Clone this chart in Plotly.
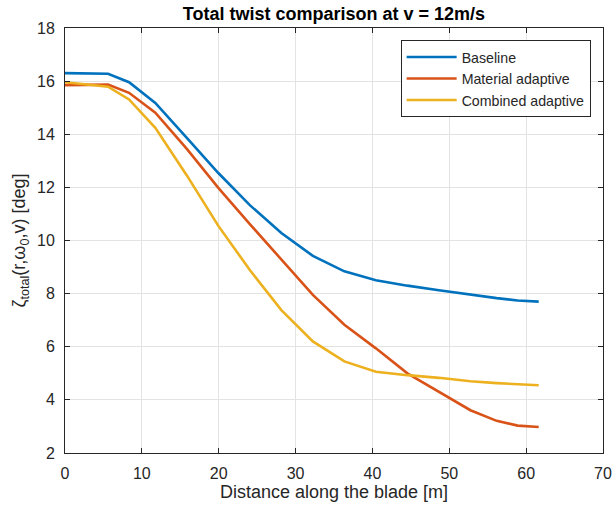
import plotly.graph_objects as go

distance = [0, 2.8667, 5.6, 8.3333, 11.75, 15.85, 19.95, 24.05, 28.15, 32.25,
            36.35, 40.45, 44.55, 48.65, 52.75, 56.1667, 58.9, 61.6333]
baseline = [16.30, 16.30, 16.28, 15.96, 15.18, 13.86, 12.54, 11.33, 10.28, 9.42,
            8.84, 8.50, 8.30, 8.13, 7.96, 7.83, 7.74, 7.70]
material = [15.85, 15.86, 15.87, 15.56, 14.81, 13.45, 11.98, 10.62, 9.27, 7.95,
            6.83, 5.94, 5.00, 4.30, 3.61, 3.21, 3.03, 2.98]
combined = [15.96, 15.88, 15.79, 15.31, 14.24, 12.45, 10.55, 8.89, 7.38, 6.20,
            5.45, 5.06, 4.93, 4.83, 4.70, 4.63, 4.58, 4.55]

series = [("Baseline", baseline, "#0072BD"),
          ("Material adaptive", material, "#D95319"),
          ("Combined adaptive", combined, "#EDB120")]

fig = go.Figure()
for name, vals, col in series:
    fig.add_trace(go.Scatter(x=distance, y=vals, mode="lines", name=name,
                             line=dict(color=col, width=2.6)))

font = "Liberation Sans, Arial, sans-serif"
axcol = "#262626"
fig.update_layout(
    width=612, height=510,
    margin=dict(l=65, r=9, t=28, b=57),
    paper_bgcolor="white", plot_bgcolor="white",
    font=dict(family=font, size=16, color=axcol),
    title=dict(text="<b>Total twist comparison at v = 12m/s</b>",
               x=(65 + 603) / 2 / 612, xanchor="center",
               y=1 - 14 / 510, yanchor="middle",
               font=dict(size=18, color="black")),
    showlegend=True,
    legend=dict(x=0.977, y=0.971, xanchor="right", yanchor="top",
                bgcolor="white", bordercolor=axcol, borderwidth=1,
                itemwidth=50,
                font=dict(size=14.2, color=axcol), tracegroupgap=0),
)
fig.update_xaxes(range=[0, 70], dtick=10, showgrid=True, gridcolor="#e3e3e3",
                 showline=True, linecolor=axcol, linewidth=1, mirror="ticks",
                 ticks="inside", ticklen=5, tickcolor=axcol, zeroline=False,
                 automargin=False, ticklabelstandoff=6,
                 title=dict(text="Distance along the blade [m]",
                            font=dict(size=18, color=axcol), standoff=2))
fig.update_yaxes(range=[2, 18], dtick=2, showgrid=True, gridcolor="#e3e3e3",
                 showline=True, linecolor=axcol, linewidth=1, mirror="ticks",
                 ticks="inside", ticklen=5, tickcolor=axcol, zeroline=False,
                 automargin=False, ticklabelstandoff=6,
                 title=dict(text="ζ<sub>total</sub>(r,ω<sub>0</sub>,v) [deg]",
                            font=dict(size=18, color=axcol), standoff=6))

fig.write_html("out.html")
